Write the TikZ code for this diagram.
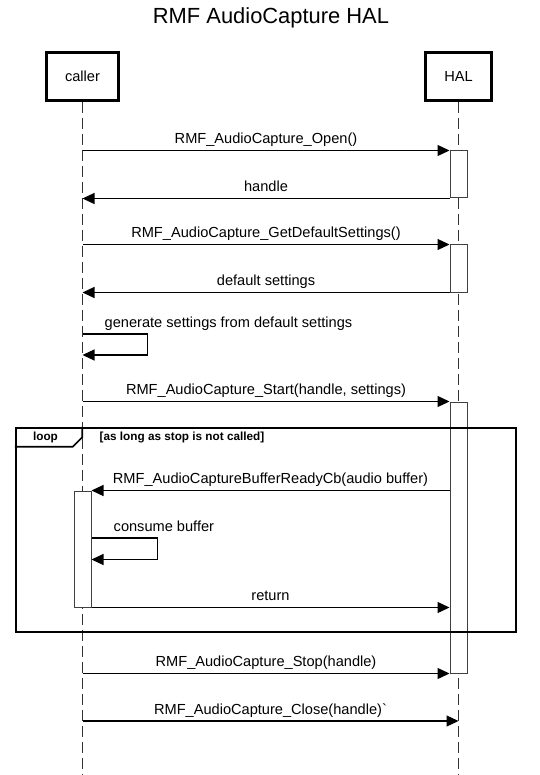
\documentclass[tikz,border=0pt]{standalone}
\usepackage{fontspec}
\setmainfont{Liberation Sans}
\usetikzlibrary{arrows.meta}

\begin{document}
\begin{tikzpicture}[x=1pt, y=-1pt,
    actor/.style={draw, line width=2.5pt, minimum width=72pt, minimum height=48pt, inner sep=0pt, font=\fontsize{14.6}{17}\selectfont},
    life/.style={draw=black!80, line width=1.3pt, dash pattern=on 11pt off 5pt},
    act/.style={draw=black!75, fill=white, line width=1pt, minimum width=17pt, inner sep=0pt},
    frame/.style={draw, line width=2.5pt, inner sep=0pt},
    msg/.style={line width=1.2pt, -{Triangle[length=12pt,width=11pt]}},
    lbl/.style={font=\fontsize{14.6}{17}\selectfont, inner sep=0pt, text height=10.5pt, text depth=3.2pt},
    small/.style={font=\bfseries\fontsize{11.75}{14}\selectfont, inner sep=0pt},
  ]
    \useasboundingbox (0,0) rectangle (539,775);

    % Title
    \node[font=\fontsize{21.9}{26}\selectfont] (title) at (271,18) {RMF AudioCapture HAL};

    % Participants
    \node[actor] (caller) at (82.5,76.5) {caller};
    \node[actor, minimum width=66pt] (hal) at (458.5,76.5) {HAL};

    % Lifelines
    \draw[life] (caller.south) -- (caller.south |- 0,775);
    \draw[life] (hal.south) -- (hal.south |- 0,775);

    % Activations
    \node[act, minimum height=47pt] (a1) at (hal |- 0,174.5) {};
    \node[act, minimum height=47pt] (a2) at (hal |- 0,268.5) {};
    \node[act, minimum height=271pt] (a3) at (hal |- 0,537.5) {};
    \node[act, minimum height=116pt] (c1) at (caller |- 0,549) {};

    % Loop frame
    \node[frame, minimum width=500pt, minimum height=204pt] (loop) at (266,530) {};
    \draw[line width=1.6pt] (loop.north west) ++(0,20) -- ++(58,0) -- ++(9.5,-9.5) -- ++(0,-10.5);
    \node[small] (looplbl) at (45.5,437.5) {loop};
    \node[small, anchor=west] (cond) at (99.5,437.5) {[as long as stop is not called]};

    % Messages
    \draw[msg] (caller |- a1.north) -- (a1.north west) node[lbl, midway, above=3pt] {RMF\_AudioCapture\_Open()};
    \draw[msg] (a1.south west) -- (caller |- a1.south) node[lbl, midway, above=3pt] {handle};
    \draw[msg] (caller |- a2.north) -- (a2.north west) node[lbl, midway, above=3pt] {RMF\_AudioCapture\_GetDefaultSettings()};
    \draw[msg] (a2.south west) -- (caller |- a2.south) node[lbl, midway, above=3pt] {default settings};

    % Self call
    \coordinate (g1) at (caller |- 0,334);
    \coordinate (g2) at (caller |- 0,355);
    \draw[msg] (g1) -- ++(65,0) |- (g2);
    \node[lbl, anchor=south west, xshift=22pt, yshift=3pt] (glbl) at (g1) {generate settings from default settings};

    \draw[msg] (caller |- a3.north) -- (a3.north west) node[lbl, midway, above=3pt] {RMF\_AudioCapture\_Start(handle, settings)};

    % Inside loop
    \draw[msg] (a3.west |- c1.north) -- (c1.north east) node[lbl, midway, above=3pt] {RMF\_AudioCaptureBufferReadyCb(audio buffer)};
    \coordinate (b1) at (c1.east |- 0,538);
    \coordinate (b2) at (c1.east |- 0,559.5);
    \draw[msg] (b1) -- ++(66,0) |- (b2);
    \node[lbl, anchor=south west, xshift=22pt, yshift=3pt] (blbl) at (b1) {consume buffer};
    \draw[msg] (c1.south east) -- (a3.west |- c1.south) node[lbl, midway, above=3pt] {return};

    % Stop and close
    \draw[msg] (caller |- a3.south) -- (a3.south west) node[lbl, midway, above=3pt] {RMF\_AudioCapture\_Stop(handle)};
    \coordinate (cl) at (caller |- 0,721);
    \draw[msg] (cl) -- (cl -| hal) node[lbl, midway, above=3pt] {RMF\_AudioCapture\_Close(handle)\textasciigrave};
\end{tikzpicture}
\end{document}
